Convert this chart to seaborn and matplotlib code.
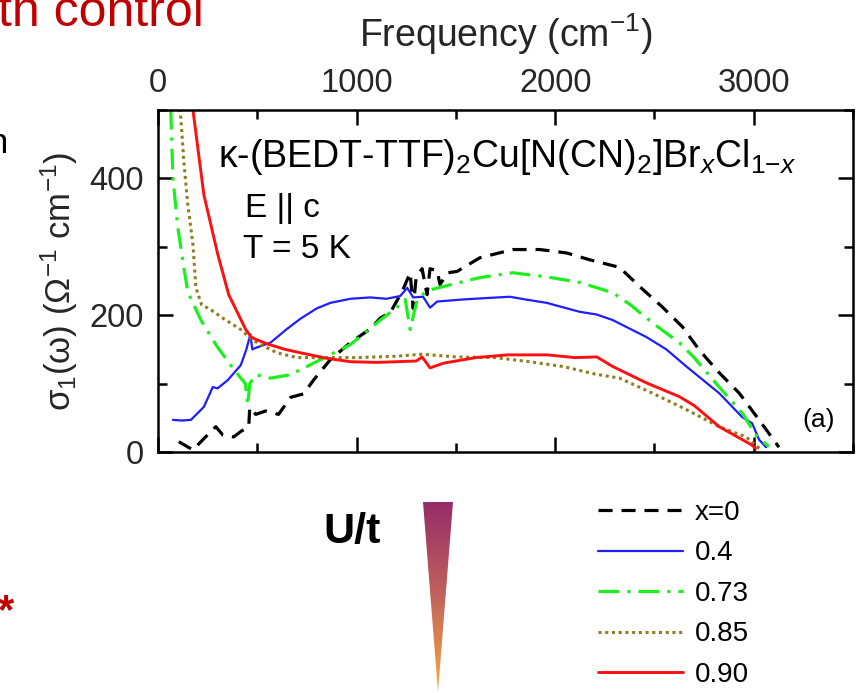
import numpy as np
import pandas as pd
import matplotlib
matplotlib.use("Agg")
import matplotlib.pyplot as plt
from matplotlib.patches import Polygon
from matplotlib.colors import LinearSegmentedColormap
from matplotlib.ticker import MultipleLocator
import seaborn as sns

# ---------------- data ----------------
freq_x0 = [105, 176, 226, 291, 326, 381, 417, 457, 462, 492, 542, 607, 668, 733, 783,
           868, 969, 1069, 1120, 1170, 1230, 1270, 1285, 1300, 1330, 1355, 1370, 1406,
           1420, 1460, 1506, 1621, 1787, 1923, 2058, 2174, 2324, 2425, 2540, 2641, 2726,
           2826, 2927, 3027, 3127]
sig_x0 = [15, 3, 18, 37, 25, 22, 30, 37, 65, 55, 60, 55, 80, 85, 105,
          135, 160, 180, 196, 204, 235, 262, 210, 255, 268, 230, 268, 265,
          245, 262, 264, 284, 296, 296, 291, 281, 270, 242, 212, 183, 149,
          116, 86, 47, 7]

freq_04 = [75, 120, 166, 231, 276, 300, 351, 390, 417, 445, 465, 475, 490, 567, 650,
           718, 800, 868, 969, 1069, 1150, 1220, 1255, 1285, 1335, 1370, 1406, 1536,
           1650, 1772, 1850, 1958, 2123, 2209, 2289, 2460, 2560, 2661, 2826, 2942,
           2992, 3027, 3062]
sig_04 = [47, 46, 47, 66, 95, 93, 105, 118, 127, 150, 172, 150, 152, 160, 180,
          195, 210, 218, 224, 226, 224, 228, 240, 226, 227, 211, 220, 223,
          225, 227, 223, 218, 205, 201, 193, 168, 150, 125, 86, 51,
          42, 18, 7]

freq_073 = [50, 65, 75, 100, 130, 150, 216, 291, 366, 417, 440, 452, 462, 492, 567,
            668, 818, 969, 1120, 1205, 1245, 1270, 1305, 1340, 1370, 1506, 1621, 1787,
            1958, 2123, 2289, 2380, 2460, 2540, 2625, 2700, 2826, 2942, 3017, 3077]
sig_073 = [560, 494, 401, 328, 270, 234, 193, 157, 127, 108, 100, 69, 100, 113, 108,
           113, 135, 157, 193, 212, 223, 179, 223, 232, 237, 247, 255, 262,
           256, 248, 233, 215, 196, 178, 160, 138, 95, 57, 22, 8]

freq_085 = [80, 115, 130, 150, 176, 191, 220, 266, 330, 417, 470, 517, 600, 700, 800,
            1000, 1200, 1330, 1500, 1700, 1870, 2040, 2200, 2324, 2490, 2661, 2826,
            2962, 3030]
sig_085 = [540, 489, 425, 362, 303, 240, 215, 208, 195, 179, 165, 157, 145, 138, 138,
           138, 140, 143, 139, 138, 132, 125, 114, 108, 86, 62, 37,
           22, 5]

freq_090 = [150, 176, 231, 301, 356, 442, 470, 490, 550, 640, 718, 850, 969, 1100,
            1200, 1300, 1330, 1370, 1440, 1600, 1760, 1960, 2100, 2210, 2290, 2460,
            2625, 2700, 2826, 2992, 3010]
sig_090 = [560, 500, 376, 289, 230, 179, 168, 165, 158, 150, 145, 137, 132, 131,
           132, 133, 139, 123, 130, 138, 142, 142, 138, 139, 125, 101,
           81, 68, 37, 10, 5]

series_labels = ["x=0", "0.4", "0.73", "0.85", "0.90"]
x_ticklabels = ["0", "1000", "2000", "3000"]
y_ticklabels = ["0", "200", "400"]

# ---------------- style ----------------
sns.set_style("ticks")
plt.rcParams['font.family'] = ['Liberation Sans', 'DejaVu Sans']
plt.rcParams['mathtext.fontset'] = 'custom'
plt.rcParams['mathtext.rm'] = 'Liberation Sans'
plt.rcParams['mathtext.it'] = 'Liberation Sans:italic'
plt.rcParams['mathtext.bf'] = 'Liberation Sans:bold'
plt.rcParams['text.color'] = 'black'

W, H = 856, 693
fig = plt.figure(figsize=(W / 100, H / 100), dpi=100)
fig.patch.set_facecolor('white')

# overlay in pixel coordinates for the slide decorations
over = fig.add_axes([0, 0, 1, 1])
over.set_facecolor('none')
over.axis('off')

ax = fig.add_axes([158 / W, 1 - 452 / H, (853 - 158) / W, (452 - 110) / H])

styles = [
    dict(color='black', linewidth=2.3, linestyle=(0, (4.4, 2.8))),
    dict(color='#1e1eff', linewidth=1.6, linestyle='-'),
    dict(color='#1cf01c', linewidth=2.3, linestyle=(0, (6.5, 2.5, 1.0, 2.5))),
    dict(color='#8c7f1c', linewidth=2.2, linestyle=(0, (1.0, 1.2))),
    dict(color='#ff1010', linewidth=2.1, linestyle='-'),
]
data = [(freq_x0, sig_x0), (freq_04, sig_04), (freq_073, sig_073),
        (freq_085, sig_085), (freq_090, sig_090)]

for (fx, sy), lab, st in zip(data, series_labels, styles):
    df = pd.DataFrame({"freq": fx, "sigma": sy})
    sns.lineplot(data=df, x="freq", y="sigma", ax=ax, sort=False, estimator=None,
                 label=lab, legend=False, **st)

ax.set_xlim(0, 3500)
ax.set_ylim(0, 500)
ax.set_xticks([0, 1000, 2000, 3000])
ax.set_xticklabels(x_ticklabels)
ax.set_yticks([0, 200, 400])
ax.set_yticklabels(y_ticklabels)
ax.xaxis.set_minor_locator(MultipleLocator(500))
ax.yaxis.set_minor_locator(MultipleLocator(100))
ax.xaxis.tick_top()
ax.xaxis.set_label_position('top')
ax.tick_params(which='both', direction='in', top=True, bottom=True, left=True,
               right=True, labeltop=True, labelbottom=False, width=1.8, color='black')
ax.tick_params(which='major', length=10.5, labelsize=23.5, pad=8)
ax.tick_params(axis='y', which='major', pad=10)
ax.tick_params(which='minor', length=6.5)
for sp in ax.spines.values():
    sp.set_linewidth(1.8)
    sp.set_color('black')
    sp.set_visible(True)

ax.set_xlabel(r"Frequency (cm$^{\mathrm{-1}}$)", fontsize=27, labelpad=15)
ax.set_ylabel(r"$\mathrm{\sigma_1(\omega)\ (\Omega^{-1}\ cm^{-1})}$", fontsize=25, labelpad=7)

# in-plot annotations (axes fraction from pixel positions)
def axfrac(px, py):
    return ((px - 158) / (853 - 158), (452 - py) / (452 - 110))

ax.text(*axfrac(218, 167),
        r"κ-(BEDT-TTF)$_{2}$Cu[N(CN)$_{2}$]Br$_{\mathit{x}}$Cl$_{1\mathrm{-}\mathit{x}}$",
        transform=ax.transAxes, fontsize=27, ha='left', va='baseline')
ax.text(*axfrac(245, 217), "E || c", transform=ax.transAxes, fontsize=24,
        ha='left', va='baseline')
ax.text(*axfrac(243, 258), "T = 5 K", transform=ax.transAxes, fontsize=24,
        ha='left', va='baseline')
ax.text(*axfrac(802, 427), "(a)", transform=ax.transAxes, fontsize=19,
        ha='left', va='baseline')

# legend
handles, labels = ax.get_legend_handles_labels()
fig.legend(handles, labels, loc='upper left', bbox_to_anchor=(598 / W, 1 - 500 / H),
           frameon=False, fontsize=20, handlelength=3.06, handletextpad=0.43,
           labelspacing=0.52, borderpad=0, borderaxespad=0)

# slide decorations
over.text(-2, 26, "th control", color='#c00000', fontsize=36, ha='left', va='baseline')
over.text(8, 153, "n", color='black', fontsize=25, ha='right', va='baseline')
over.text(-2, 623, "*", color='#c00000', fontsize=30, fontweight='bold', ha='left',
          va='baseline')
over.text(323, 543, "U/t", color='black', fontsize=31, fontweight='bold', ha='left',
          va='baseline')

grad = np.linspace(0, 1, 256).reshape(-1, 1)
cmap = LinearSegmentedColormap.from_list('ut', ['#962c68', '#c2645c', '#f7aa42'])
im = over.imshow(grad, extent=[423, 453, 692, 502], cmap=cmap, aspect='auto',
                 origin='upper', interpolation='bilinear')
tri = Polygon([[423, 502], [453, 502], [438, 692]], closed=True, facecolor='none',
              edgecolor='none', transform=over.transData)
over.add_patch(tri)
im.set_clip_path(tri)
over.set_xlim(0, W)
over.set_ylim(H, 0)

fig.savefig("out.png", dpi=100, facecolor='white')
